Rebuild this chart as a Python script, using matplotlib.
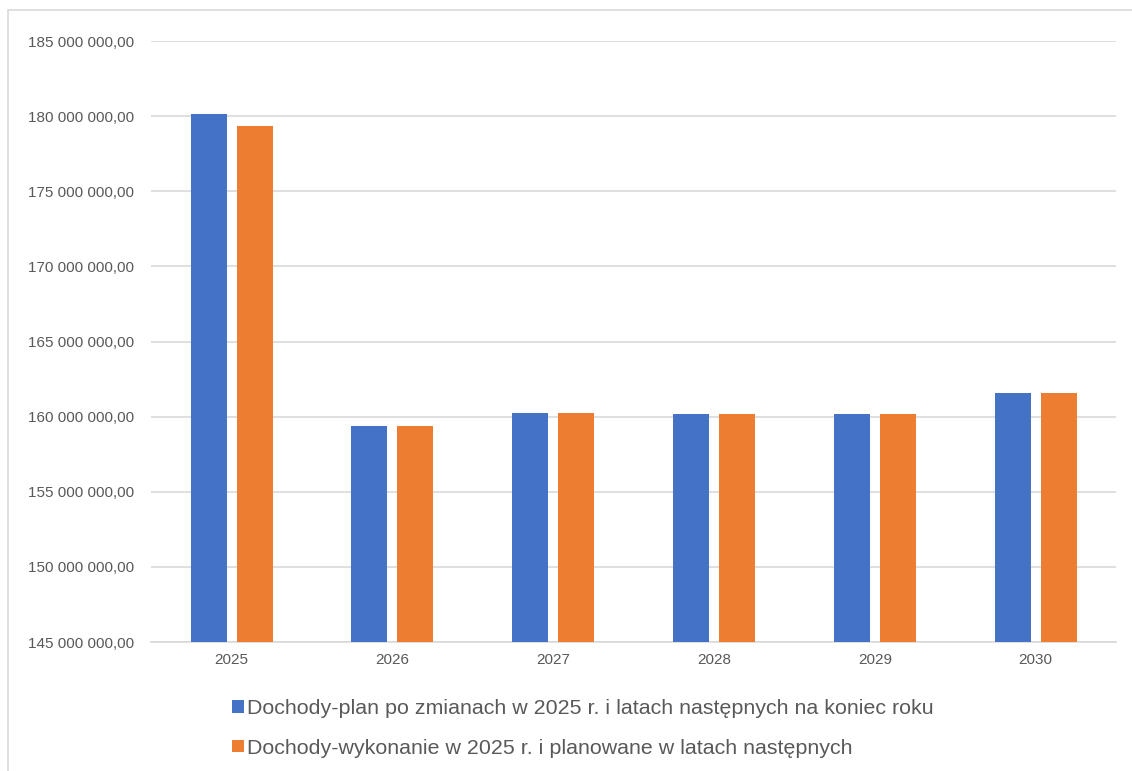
import numpy as np
import matplotlib.pyplot as plt
from matplotlib.ticker import FuncFormatter, MultipleLocator
from matplotlib.patches import Rectangle

plt.rcParams['font.family'] = ['Liberation Sans', 'DejaVu Sans']

years = ["2025", "2026", "2027", "2028", "2029", "2030"]
plan = [180_130_000, 159_400_000, 160_230_000, 160_170_000, 160_180_000, 161_550_000]
wykonanie = [179_320_000, 159_400_000, 160_230_000, 160_170_000, 160_180_000, 161_550_000]
labels = ["Dochody-plan po zmianach w 2025 r. i latach następnych na koniec roku",
          "Dochody-wykonanie w 2025 r. i planowane w latach następnych"]

text_col = "#595959"
grid_col = "#d9d9d9"

fig = plt.figure(figsize=(11.32, 7.71), dpi=100)
ax = fig.add_axes([0.1335, 0.1673, 0.8525, 0.7795])

x = np.arange(len(years))
w = 0.224
off = 0.143
b1 = ax.bar(x - off, plan, w, color="#4472C4", label=labels[0], zorder=3)
b2 = ax.bar(x + off, wykonanie, w, color="#ED7D31", label=labels[1], zorder=3)

ax.set_ylim(145_000_000, 185_000_000)
ax.set_xlim(-0.5, len(years) - 0.5)
ax.yaxis.set_major_locator(MultipleLocator(5_000_000))


def fmt(v, pos):
    s = f"{v:,.2f}"
    s = s.replace(",", " ").replace(".", ",")
    return s


ax.yaxis.set_major_formatter(FuncFormatter(fmt))
ax.set_xticks(x)
ax.set_xticklabels(years)
ax.tick_params(axis="both", length=0, colors=text_col, labelsize=11)
ax.tick_params(axis="y", pad=12)
ax.tick_params(axis="x", pad=8)
ax.grid(axis="y", color=grid_col, linewidth=1.2, zorder=0)
for s in ["top", "right", "left"]:
    ax.spines[s].set_visible(False)
ax.spines["bottom"].set_color(grid_col)
ax.spines["bottom"].set_linewidth(1.2)

fig.patches.append(Rectangle((8 / 1132, -0.01), 1.1, 1 - 10 / 771 + 0.01,
                             transform=fig.transFigure, fill=False,
                             edgecolor=grid_col, linewidth=1.2))

fig.legend(handles=[b1, b2], labels=labels, loc="upper left",
           bbox_to_anchor=(213 / 1132, 1 - 680 / 771), frameon=False,
           fontsize=15.4, labelcolor=text_col, handlelength=0.55,
           handleheight=0.55, handletextpad=0.15, labelspacing=0.95)

fig.savefig("out.png", dpi=100)
